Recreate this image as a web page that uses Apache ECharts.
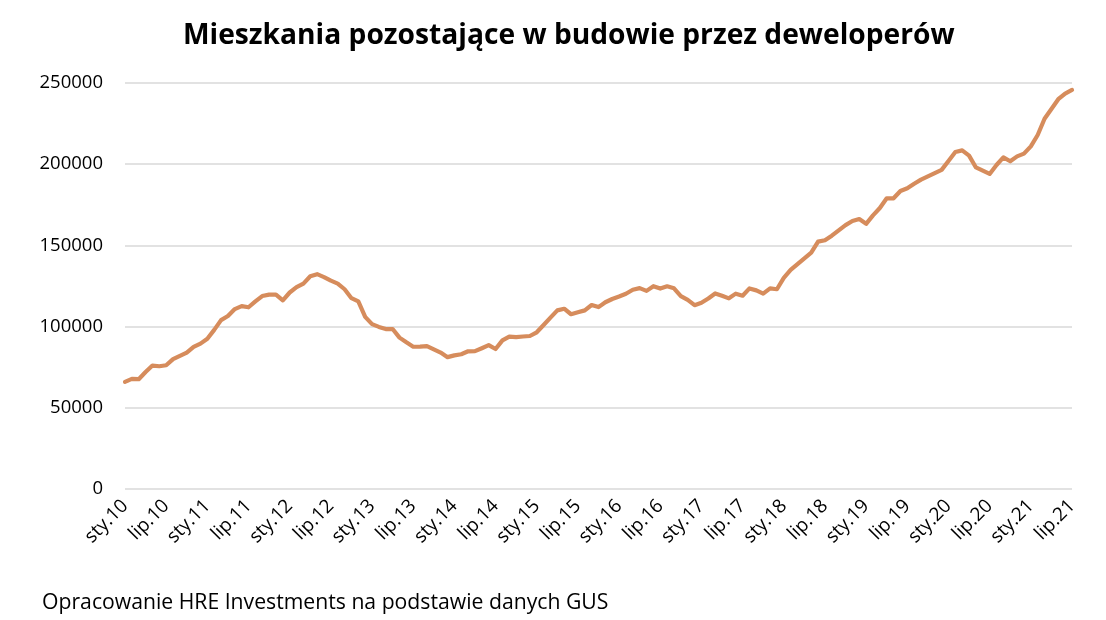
<!DOCTYPE html>
<html>
<head>
<meta charset="utf-8">
<script src="https://cdn.jsdelivr.net/npm/echarts@6/dist/echarts.min.js"></script>
<style>
html,body{margin:0;padding:0;background:#fff;}
#chart{width:1106px;height:620px;}
</style>
</head>
<body>
<div id="chart"></div>
<script>
const monthNames = ['sty','lut','mar','kwi','maj','cze','lip','sie','wrz','paź','lis','gru'];
const startYear = 10;
const monthCount = 139;
const categories = [];
for (let i = 0; i < monthCount; i++) {
  const y = startYear + Math.floor(i / 12);
  categories.push(monthNames[i % 12] + '.' + y);
}
const values = [
  66000, 67800, 67600, 72000, 76000, 75600, 76200, 80000, 82000, 84000, 87500, 89500,
  92500, 98000, 104000, 106500, 110800, 112600, 111900, 115500, 118800, 119700, 119700, 116200,
  121000, 124300, 126500, 131000, 132300, 130500, 128300, 126500, 123000, 117500, 115500, 106000,
  101500, 99800, 98500, 98500, 93200, 90300, 87600, 87700, 88000, 86000, 84000, 81200,
  82300, 83000, 84800, 84900, 86700, 88600, 86200, 91500, 93800, 93500, 93900, 94200,
  96500, 101000, 105500, 110000, 111000, 107600, 108800, 110000, 113300, 112000, 115000, 117000,
  118500, 120200, 122700, 123700, 122000, 124900, 123400, 124800, 123600, 118800, 116500, 113200,
  114700, 117300, 120400, 119000, 117400, 120300, 119000, 123500, 122300, 120300, 123500, 123000,
  130000, 134900, 138500, 142000, 145500, 152300, 153200, 156000, 159300, 162500, 165000, 166200,
  163300, 168500, 173000, 179000, 179000, 183500, 185200, 188000, 190500, 192500, 194500, 196500,
  202000, 207500, 208500, 205300, 198000, 196000, 194000, 199500, 204200, 201800, 204800, 206500,
  211000, 218000, 228000, 234000, 240000, 243500, 245700
];
const yTicks = [0, 50000, 100000, 150000, 200000, 250000];
const titleText = 'Mieszkania pozostające w budowie przez deweloperów';
const footerText = 'Opracowanie HRE Investments na podstawie danych GUS';

const chart = echarts.init(document.getElementById('chart'), null, {renderer: 'canvas'});
chart.setOption({
  animation: false,
  backgroundColor: '#ffffff',
  title: [{
    text: titleText,
    left: 178,
    top: 17,
    textStyle: {fontFamily: 'Open Sans', fontWeight: 'bold', fontSize: 28.2, color: '#000000'}
  }, {
    text: footerText,
    left: 37,
    top: 587,
    textStyle: {fontFamily: 'Open Sans', fontWeight: 'normal', fontSize: 21.2, color: '#000000'}
  }],
  grid: {left: 125, right: 34, top: 83, bottom: 131, containLabel: false},
  xAxis: {
    type: 'category',
    data: categories,
    boundaryGap: false,
    axisLine: {show: false},
    axisTick: {show: false},
    splitLine: {show: false},
    axisLabel: {
      interval: 5,
      rotate: 45,
      margin: 14,
      fontFamily: 'Open Sans',
      fontSize: 19,
      color: '#000000'
    }
  },
  yAxis: {
    type: 'value',
    min: yTicks[0],
    max: yTicks[yTicks.length - 1],
    interval: yTicks[1] - yTicks[0],
    axisLine: {show: false},
    axisTick: {show: false},
    splitLine: {lineStyle: {color: '#d9d9d9', width: 1.5}},
    axisLabel: {
      margin: 22,
      fontFamily: 'Open Sans',
      fontSize: 18.5,
      color: '#000000',
      formatter: function (v) { return String(v); }
    }
  },
  series: [{
    type: 'line',
    data: values,
    symbol: 'none',
    smooth: false,
    lineStyle: {color: '#d68c5c', width: 4.2, cap: 'round', join: 'round'}
  }]
});
</script>
</body>
</html>
